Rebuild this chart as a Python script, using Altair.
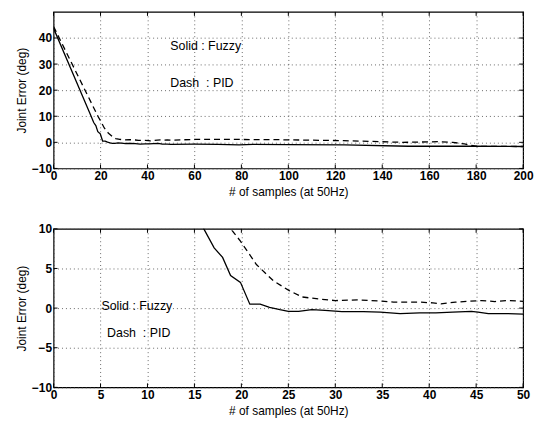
import altair as alt
import pandas as pd

# Solid line: Fuzzy controller
fuzzy_x = [0, 16, 17.1, 18, 18.85, 19.9, 20.9, 22, 23, 24.1, 25, 26.1, 27.5, 28.9, 30.7,
           33, 34.8, 36.9, 39, 40.7, 42.5, 44.5, 45.2, 46.3, 48.4, 50,
           60, 70, 79, 85, 100, 124, 151, 179, 200]
fuzzy_y = [43.7, 10, 7.6, 6.4, 4.1, 3.25, 0.5, 0.5, 0.1, -0.2, -0.4, -0.4, -0.2, -0.3, -0.45,
           -0.45, -0.5, -0.7, -0.6, -0.6, -0.5, -0.4, -0.5, -0.7, -0.7, -0.75,
           -0.7, -0.75, -0.95, -0.8, -0.9, -1.0, -1.5, -1.5, -1.6]

# Dashed line: PID controller
pid_x = [0, 19, 19.9, 21.6, 23.4, 25.1, 26.5, 28.2, 30, 32.4, 33.6, 34.8, 36.2, 37.6, 39,
         40.4, 41.25, 42.8, 44.2, 45.6, 47, 48.4, 50,
         60, 80, 96.5, 123.6, 148.6, 164, 170, 175, 180, 200]
pid_y = [44.4, 9.8, 8.45, 5.5, 3.45, 2.2, 1.4, 1.15, 0.95, 1.04, 0.95, 0.9, 0.75, 0.75, 0.75,
         0.66, 0.54, 0.75, 0.87, 0.95, 0.83, 0.95, 0.85,
         1.1, 1.1, 1.0, 0.65, 0.0, 0.25, 0.0, -0.6, -1.5, -1.6]

note_labels = ["Solid : Fuzzy", "Dash\u00a0\u00a0: PID"]
top_note_x = [49.7, 49.7]
top_note_y = [36.8, 22.8]
bot_note_x = [5.1, 5.7]
bot_note_y = [0.25, -3.2]

top_xticks = [0, 20, 40, 60, 80, 100, 120, 140, 160, 180, 200]
top_yticks = [-10, 0, 10, 20, 30, 40]
bot_xticks = [0, 5, 10, 15, 20, 25, 30, 35, 40, 45, 50]
bot_yticks = [-10, -5, 0, 5, 10]

fuzzy_df = pd.DataFrame({"x": fuzzy_x, "y": fuzzy_y})
pid_df = pd.DataFrame({"x": pid_x, "y": pid_y})

FONT = "Liberation Sans"
W = 474
TICK = 4


def panel(xdom, xticks, ydom, yticks, notes_x, notes_y, w, h):
    xs = alt.Scale(domain=xdom, nice=False, zero=False)
    ys = alt.Scale(domain=ydom, nice=False, zero=False)
    xax = alt.Axis(values=xticks, title="# of samples (at 50Hz)", grid=True,
                   format="d", labelFlush=False, labelOverlap=False, titlePadding=5)
    yax = alt.Axis(values=yticks, title="Joint Error (deg)", grid=True, format="d",
                   labelOverlap=False)
    X = alt.X("x:Q", scale=xs, axis=xax)
    Y = alt.Y("y:Q", scale=ys, axis=yax)
    fz = alt.Chart(fuzzy_df).mark_line(color="black", strokeWidth=1.3, clip=True).encode(
        x=X, y=Y)
    pd_ = alt.Chart(pid_df).mark_line(color="black", strokeWidth=1.3, strokeDash=[6, 4],
                                      clip=True).encode(x=X, y=Y)
    notes = pd.DataFrame({"x": notes_x, "y": notes_y, "t": note_labels})
    tx = alt.Chart(notes).mark_text(align="left", baseline="middle", fontSize=12.5,
                                    font=FONT, color="black").encode(x=X, y=Y, text="t:N")
    xt = pd.DataFrame({"x": xticks})
    yt = pd.DataFrame({"y": yticks})
    tb = alt.Chart(xt).mark_rule(color="black", strokeWidth=1).encode(
        x=X, y=alt.value(h), y2=alt.value(h - TICK))
    tt = alt.Chart(xt).mark_rule(color="black", strokeWidth=1).encode(
        x=X, y=alt.value(0), y2=alt.value(TICK))
    tl = alt.Chart(yt).mark_rule(color="black", strokeWidth=1).encode(
        y=Y, x=alt.value(0), x2=alt.value(TICK))
    tr = alt.Chart(yt).mark_rule(color="black", strokeWidth=1).encode(
        y=Y, x=alt.value(w), x2=alt.value(w - TICK))
    return alt.layer(fz, pd_, tx, tb, tt, tl, tr).properties(width=w, height=h)


top = panel([0, 200], top_xticks, [-10, 50], top_yticks, top_note_x, top_note_y, W, 158)
bot = panel([0, 50], bot_xticks, [-10, 10], bot_yticks, bot_note_x, bot_note_y, W, 160)

chart = alt.vconcat(top, bot, spacing=24).properties(
    padding={"left": 7, "top": 0, "right": 0, "bottom": 0}
).configure_view(
    stroke="black", strokeWidth=1.2
).configure_axis(
    labelFont=FONT, titleFont=FONT, labelFontSize=12, titleFontSize=12,
    labelFontWeight="bold", labelOverlap=False,
    labelColor="black", titleColor="black", titleFontWeight="normal",
    domain=False, tickSize=0, labelPadding=2, titlePadding=3,
    gridColor="#444", gridDash=[1, 3], gridWidth=0.8, gridOpacity=1,
)

chart.save("out.html", embed_options={"renderer": "svg", "actions": False})
